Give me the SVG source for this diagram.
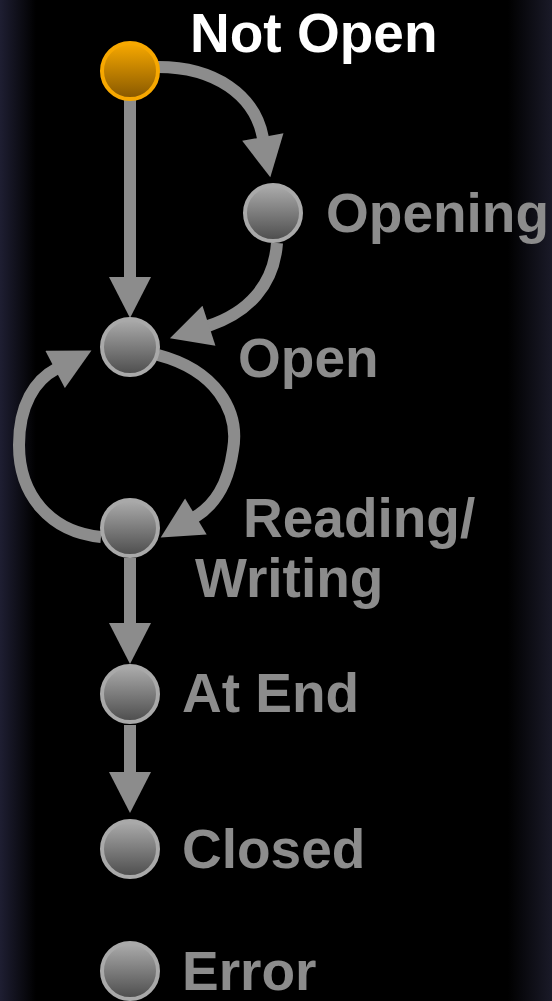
<svg xmlns="http://www.w3.org/2000/svg" width="552" height="1001" viewBox="0 0 552 1001">
<style>
.edge{fill:none;stroke:#8c8c8c;stroke-width:12}
.node{fill:url(#gray);stroke:#a9a9a9;stroke-width:4}
.start{fill:url(#orange);stroke:#f7a800;stroke-width:4}
.lbl{font-family:"Liberation Sans",Arial,sans-serif;font-weight:bold;font-size:55px;fill:#8c8c8c}
.title{fill:#ffffff}
</style>
<defs>
<linearGradient id="bg" x1="0" y1="0" x2="1" y2="0">
<stop offset="0" stop-color="#1e1e32"/>
<stop offset="0.065" stop-color="#000"/>
<stop offset="0.92" stop-color="#000"/>
<stop offset="1" stop-color="#1a1a28"/>
</linearGradient>
<linearGradient id="gray" x1="0" y1="0" x2="0" y2="1">
<stop offset="0" stop-color="#acacac"/>
<stop offset="1" stop-color="#4c4c4c"/>
</linearGradient>
<linearGradient id="orange" x1="0" y1="0" x2="0" y2="1">
<stop offset="0" stop-color="#f8a900"/>
<stop offset="1" stop-color="#865700"/>
</linearGradient>
<marker id="arr" markerUnits="userSpaceOnUse" markerWidth="42" markerHeight="42" viewBox="0 0 41 42" refX="1" refY="21" orient="auto">
<path d="M0,0 L41,21 L0,42 z" fill="#8c8c8c"/>
</marker>
</defs>
<rect x="0" y="0" width="552" height="1001" fill="url(#bg)"/>
<g id="connectors">
<path class="edge" marker-end="url(#arr)" d="M130,100 L130,278"/>
<path class="edge" marker-end="url(#arr)" d="M158,67 C215,67 255,95 263,138"/>
<path class="edge" marker-end="url(#arr)" d="M277,243 C274,285 248,313 208,326"/>
<path class="edge" marker-end="url(#arr)" d="M158,355 C215,370 240,410 233,450 C228,485 215,505 195,517"/>
<path class="edge" marker-end="url(#arr)" d="M101,537 C50,532 19,495 19,445 C19,405 35,380 56,369"/>
<path class="edge" marker-end="url(#arr)" d="M130,558 L130,624"/>
<path class="edge" marker-end="url(#arr)" d="M130,725 L130,773"/>
</g>
<g id="not-open">
<circle class="start" cx="130" cy="71" r="28"/>
<text class="lbl title" x="190" y="52">Not Open</text>
</g>
<g id="opening">
<circle class="node" cx="273" cy="213" r="28"/>
<text class="lbl" x="326" y="232">Opening</text>
</g>
<g id="open">
<circle class="node" cx="130" cy="347" r="28"/>
<text class="lbl" x="238" y="377">Open</text>
</g>
<g id="reading-writing">
<circle class="node" cx="130" cy="528" r="28"/>
<text class="lbl" x="243" y="537">Reading/</text>
<text class="lbl" x="195" y="597">Writing</text>
</g>
<g id="at-end">
<circle class="node" cx="130" cy="694" r="28"/>
<text class="lbl" x="182" y="712">At End</text>
</g>
<g id="closed">
<circle class="node" cx="130" cy="849" r="28"/>
<text class="lbl" x="182" y="868">Closed</text>
</g>
<g id="error">
<circle class="node" cx="130" cy="971" r="28"/>
<text class="lbl" x="182" y="990">Error</text>
</g>
</svg>
